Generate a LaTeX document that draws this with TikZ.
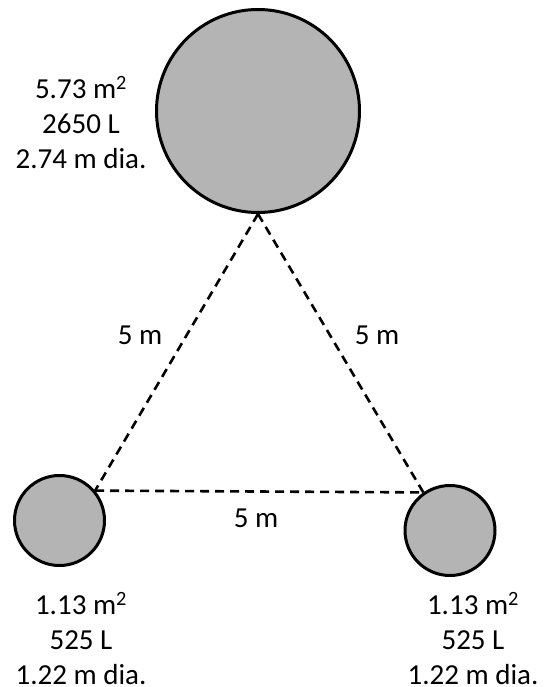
\documentclass[tikz,border=0pt]{standalone}
\usepackage{fontspec}
\setmainfont{Carlito}
\definecolor{tankfill}{RGB}{180,180,180}
\begin{document}
\begin{tikzpicture}[x=1pt,y=-1pt,
  tank/.style={circle,draw=black,line width=3pt,fill=tankfill,inner sep=0pt},
  lbl/.style={font=\fontsize{29}{35}\selectfont,align=center,inner sep=0pt},
  dist/.style={font=\fontsize{29}{35}\selectfont,inner sep=0pt},
  link/.style={line width=2.6pt,dash pattern=on 9pt off 6pt}]
\useasboundingbox (0,0) rectangle (547,687);
\node[tank,minimum size=203pt] (big) at (258,111) {};
\node[tank,minimum size=90pt] (left) at (59.5,520.5) {};
\node[tank,minimum size=90pt] (right) at (450,530.5) {};
\draw[link] (big.south) -- (left.40);
\draw[link] (big.south) -- (right.125);
\draw[link] (left.40) -- (right.125);
\node[lbl] (tbig) at (81,123) {5.73 m\textsuperscript{2}\\2650 L\\2.74 m dia.};
\node[lbl] (tleft) at (81,639) {1.13 m\textsuperscript{2}\\525 L\\1.22 m dia.};
\node[lbl] (tright) at (473,639) {1.13 m\textsuperscript{2}\\525 L\\1.22 m dia.};
\node[dist] (dl) at (140,335) {5 m};
\node[dist] (dr) at (377,335) {5 m};
\node[dist] (db) at (256,518) {5 m};
\end{tikzpicture}
\end{document}
